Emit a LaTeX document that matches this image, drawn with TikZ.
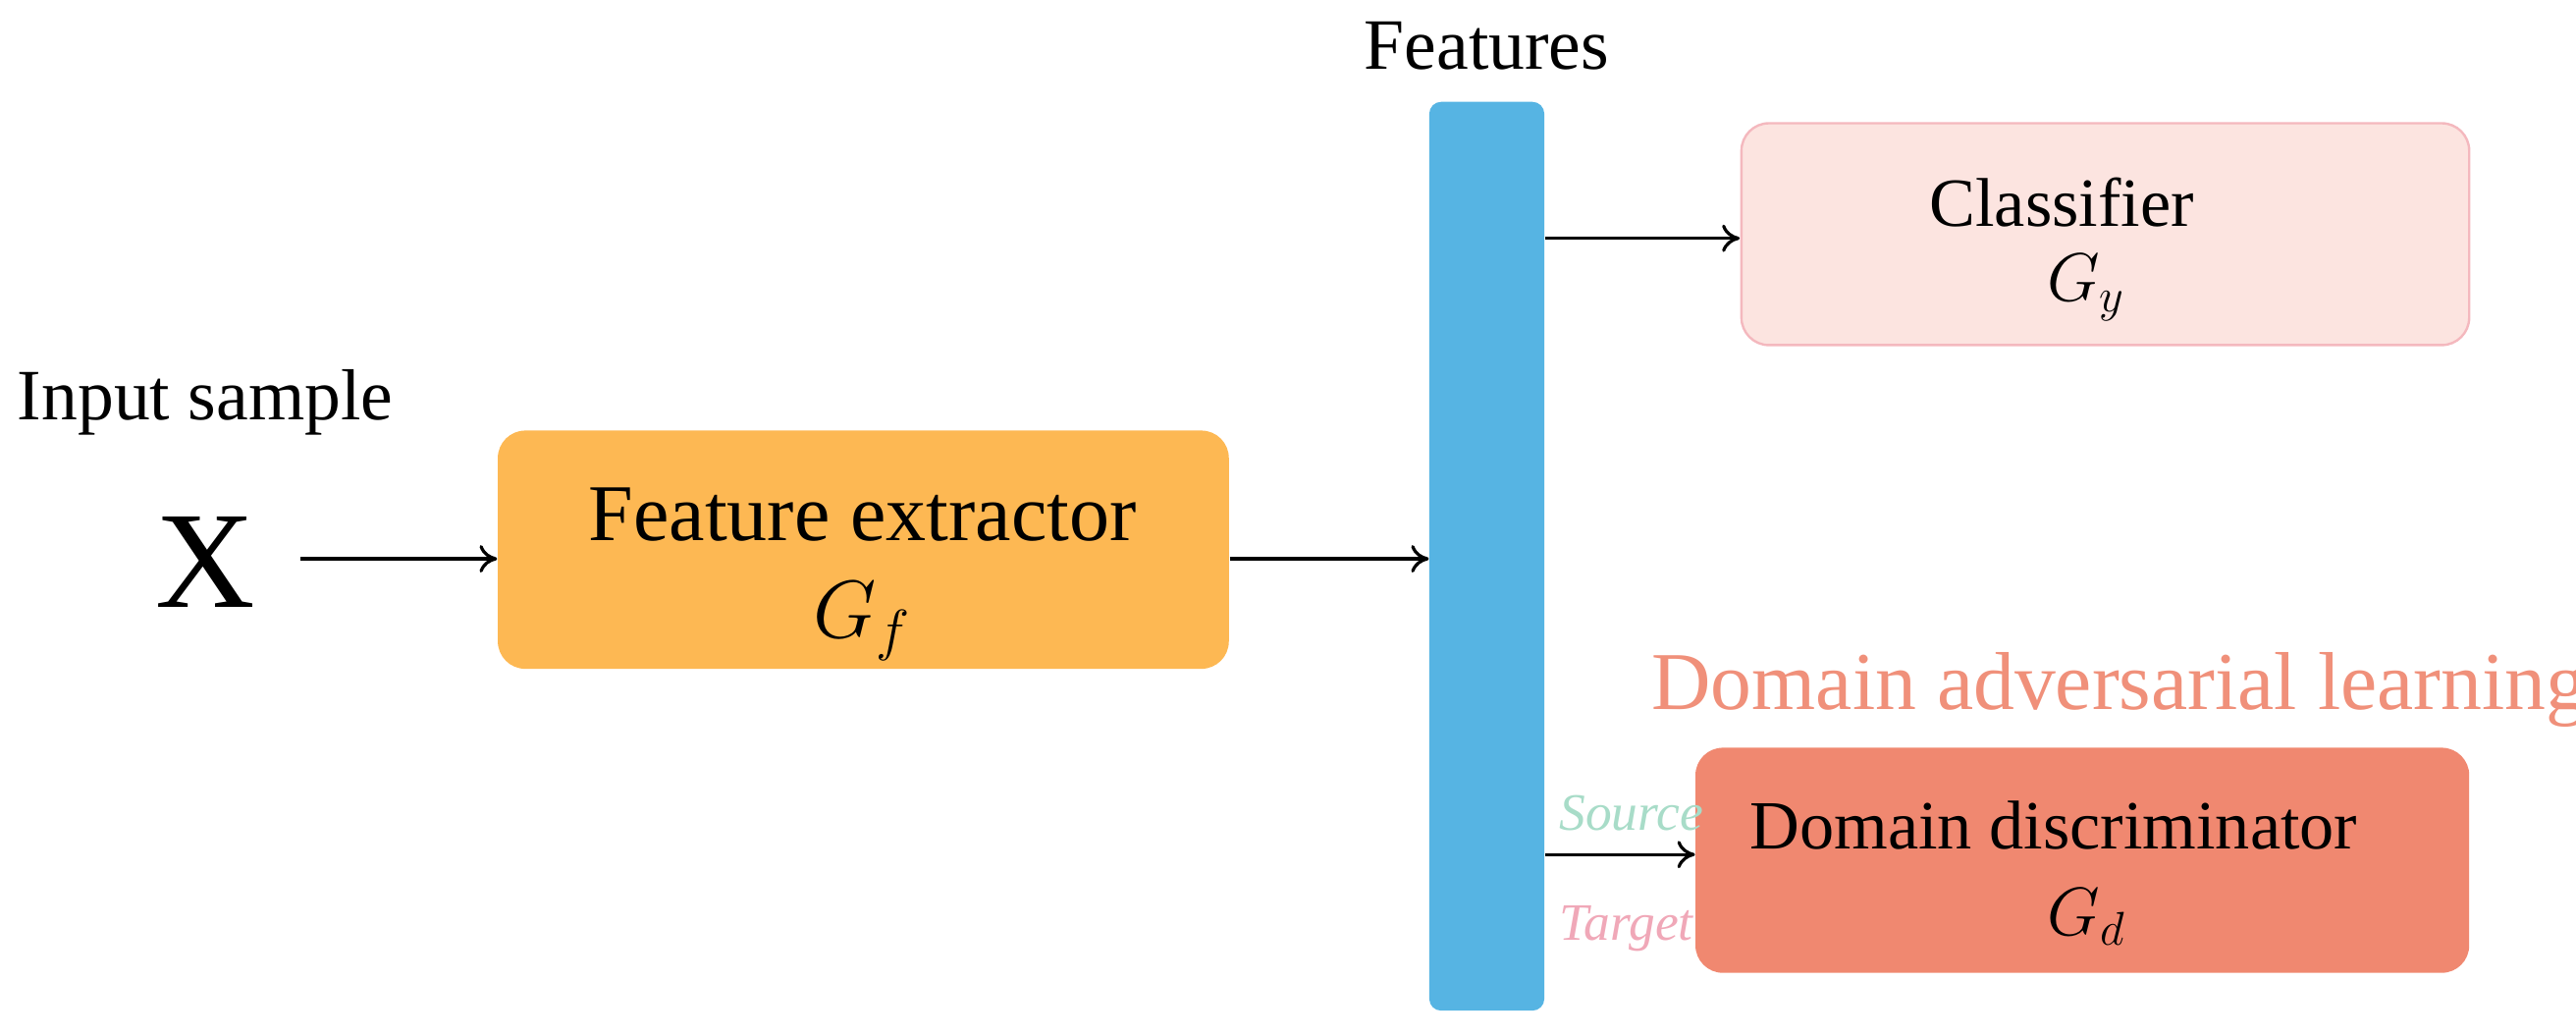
\documentclass[tikz,border=0pt]{standalone}
\usepackage{fontspec}
\setmainfont{Liberation Serif}
\usetikzlibrary{arrows.meta}
\definecolor{bar}{HTML}{56B4E3}
\definecolor{fe}{HTML}{FDB853}
\definecolor{cls}{HTML}{FCE4E0}
\definecolor{clsb}{HTML}{F4B8BE}
\definecolor{dd}{HTML}{F08870}
\definecolor{dal}{HTML}{F0907A}
\definecolor{src}{HTML}{A8DCC8}
\definecolor{tgt}{HTML}{F0A8B8}
\begin{document}
\begin{tikzpicture}[x=0.5pt,y=-0.5pt,scale=1.6735,every node/.style={transform shape},
  arr/.style={line width=1.6pt, arrows={-To[length=9pt,width=14pt,line width=1.6pt]}},
  box/.style={rounded corners=14pt, inner sep=0pt, align=center}]
\useasboundingbox (0,0) rectangle (1568,630.4);
\node[box, fill=bar, minimum width=35pt, minimum height=276.5pt, rounded corners=6pt] (bar) at (905,338.5) {};
\node[font=\fontsize{22}{26}\selectfont] (feat) at (905,28) {Features};
\node[box, fill=cls, draw=clsb, line width=1.2pt, minimum width=221.5pt, minimum height=67.5pt] (cls) at (1281.5,142.5) {};
\node[font=\fontsize{21}{24}\selectfont] at (1255,123) {Classifier};
\node[font=\fontsize{21}{24}\selectfont] at (1270,175) {$G_y$};
\node[box, fill=fe, minimum width=222.5pt, minimum height=72.5pt] (fe) at (525.5,334.5) {};
\node[font=\fontsize{24.5}{28}\selectfont] at (525,313) {Feature extractor};
\node[font=\fontsize{24.5}{28}\selectfont] at (525,378) {$G_f$};
\node[font=\fontsize{22}{26}\selectfont] at (125,245) {Input sample};
\node[font=\fontsize{42}{46}\selectfont] (x) at (125,342) {X};
\node[box, fill=dd, minimum width=235.5pt, minimum height=68.5pt] (dd) at (1267.5,523.5) {};
\node[font=\fontsize{21}{24}\selectfont] at (1250,502) {Domain discriminator};
\node[font=\fontsize{21}{24}\selectfont] at (1270,558) {$G_d$};
\node[font=\fontsize{25}{28}\selectfont, text=dal] at (1290,420) {Domain adversarial learning};
\node[font=\itshape\fontsize{16}{20}\selectfont, text=src] at (993,495) {Source};
\node[font=\itshape\fontsize{16}{20}\selectfont, text=tgt] at (990,565) {Target};
\coordinate (xa) at (183,340);
\draw[arr] (xa) -- (fe.west |- xa);
\draw[arr] (fe.east |- xa) -- (bar.west |- xa);
\draw[arr] (bar.east |- 0,145) -- (cls.west |- 0,145);
\draw[arr] (bar.east |- 0,520) -- (dd.west |- 0,520);
\end{tikzpicture}
\end{document}
